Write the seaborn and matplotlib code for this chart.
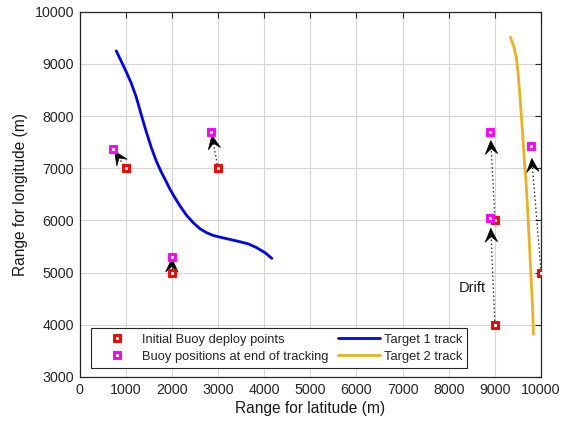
import numpy as np
import pandas as pd
import matplotlib
matplotlib.use("Agg")
import matplotlib.pyplot as plt
import matplotlib.transforms as mtransforms
from matplotlib.patches import Polygon
from matplotlib.lines import Line2D
import seaborn as sns

# Buoy deploy points and their positions at the end of tracking
deploy_x = [1000, 3000, 2000, 9000, 9000, 10000]
deploy_y = [7000, 7000, 5000, 4000, 6000, 5000]
end_x = [735, 2855, 2000, 8900, 8900, 9775]
end_y = [7360, 7700, 5300, 6050, 7700, 7430]
arrow_scale = 0.9

# Target tracks
t1_x = [796, 905, 1013, 1121, 1230, 1338, 1447, 1555, 1664, 1772, 1881, 1961,
        2069, 2178, 2323, 2466, 2612, 2757, 2900, 3046, 3262, 3479, 3660, 3841,
        4022, 4167]
t1_y = [9249, 9048, 8846, 8630, 8362, 8025, 7695, 7398, 7136, 6926, 6738, 6596,
        6432, 6277, 6094, 5954, 5839, 5763, 5711, 5679, 5635, 5591, 5550, 5476,
        5381, 5272]
t2_x = [9336, 9408, 9460, 9495, 9531, 9568, 9603, 9640, 9672, 9712, 9748, 9785,
        9820, 9835]
t2_y = [9511, 9331, 9140, 8885, 8503, 8057, 7610, 7101, 6770, 6145, 5507, 4870,
        4233, 3818]

x_ticks = list(range(0, 10001, 1000))
y_ticks = list(range(3000, 10001, 1000))

sns.set_theme(style="white")
plt.rcParams["font.family"] = ["Liberation Sans", "DejaVu Sans"]

fig = plt.figure(figsize=(5.72, 4.25), dpi=100)
ax = fig.add_axes([0.139, 0.113, 0.807, 0.8595])

ax.set_xlim(0, 10000)
ax.set_ylim(3000, 10000)
ax.set_xticks(x_ticks)
ax.set_yticks(y_ticks)
ax.grid(True, color="#d6d6d6", linewidth=0.8)
ax.set_axisbelow(True)

t1 = pd.DataFrame({"x": t1_x, "y": t1_y})
t2 = pd.DataFrame({"x": t2_x, "y": t2_y})
sns.lineplot(data=t1, x="x", y="y", sort=False, color="#0000ff", linewidth=2.0, ax=ax, zorder=3)
sns.lineplot(data=t2, x="x", y="y", sort=False, color="#edb120", linewidth=2.0, ax=ax, zorder=3)

# Drift arrows: dotted shaft plus a filled notched head
to_disp = ax.transData
for x0, y0, x1, y1 in zip(deploy_x, deploy_y, end_x, end_y):
    tx = x0 + arrow_scale * (x1 - x0)
    ty = y0 + arrow_scale * (y1 - y0)
    ax.plot([x0, tx], [y0, ty], color="black", linewidth=0.9,
            linestyle=(0, (1, 2.2)), zorder=4)
    p0 = to_disp.transform((x0, y0))
    p1 = to_disp.transform((tx, ty))
    theta = np.arctan2(p1[1] - p0[1], p1[0] - p0[0])
    head = np.array([[0, 0], [-13.5, 6.2], [-8.0, 0], [-13.5, -6.2]])
    tr = mtransforms.Affine2D().rotate(theta) + mtransforms.ScaledTranslation(tx, ty, ax.transData)
    ax.add_patch(Polygon(head, closed=True, facecolor="black", edgecolor="black",
                         linewidth=0.5, transform=tr, zorder=5))

ax.plot(deploy_x, deploy_y, linestyle="none", marker="s", markersize=4.5,
        markeredgewidth=2.1, markeredgecolor="#ff0000", markerfacecolor="white", zorder=6)
ax.plot(end_x, end_y, linestyle="none", marker="s", markersize=4.5,
        markeredgewidth=2.1, markeredgecolor="#ff00ff", markerfacecolor="white", zorder=6)

ax.text(8515, 4712, "Drift", fontsize=10.5, ha="center", va="center", color="#1a1a1a")

ax.set_xlabel("Range for latitude (m)", fontsize=11.2, color="#1a1a1a", labelpad=3)
ax.set_ylabel("Range for longitude (m)", fontsize=11.2, color="#1a1a1a", labelpad=5)
ax.tick_params(axis="both", which="both", direction="in", length=4, width=0.8,
               labelsize=10.3, colors="#262626", top=True, right=True, pad=4)
for s in ax.spines.values():
    s.set_visible(True)
    s.set_color("#262626")
    s.set_linewidth(0.9)

handles = [
    Line2D([], [], linestyle="none", marker="s", markersize=4.5, markeredgewidth=2.1,
           markeredgecolor="#ff0000", markerfacecolor="white"),
    Line2D([], [], linestyle="none", marker="s", markersize=4.5, markeredgewidth=2.1,
           markeredgecolor="#ff00ff", markerfacecolor="white"),
    Line2D([], [], color="#0000ff", linewidth=2.0),
    Line2D([], [], color="#edb120", linewidth=2.0),
]
labels = ["Initial Buoy deploy points", "Buoy positions at end of tracking",
          "Target 1 track", "Target 2 track"]
leg = ax.legend(handles, labels, ncol=2, loc="lower left", bbox_to_anchor=(0.025, 0.025),
                borderaxespad=0, fontsize=9.25, handlelength=3.27, handletextpad=0.3,
                columnspacing=0.72, labelspacing=0.4, borderpad=0.4,
                frameon=True, fancybox=False, framealpha=1, edgecolor="#262626")
leg.get_frame().set_linewidth(0.8)

fig.savefig("out.png", dpi=100)
